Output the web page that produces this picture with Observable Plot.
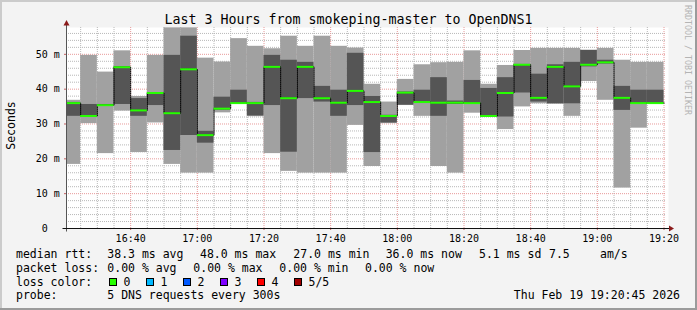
<!DOCTYPE html>
<html><head><meta charset="utf-8">
<script src="https://cdn.jsdelivr.net/npm/d3@7"></script>
<script src="https://cdn.jsdelivr.net/npm/@observablehq/plot@0.6"></script>
<style>
html,body{margin:0;padding:0;background:#f3f3f3;}
#chart{position:relative;width:697px;height:310px;background:#f3f3f3;overflow:hidden;font-family:"DejaVu Sans Mono",monospace;}
#chart svg{position:absolute;left:0;top:0;}
</style></head><body><div id="chart"></div>
<script>
// ---- data (ms) ----
const slotStart = ["16:20","16:25","16:30","16:35","16:40","16:45","16:50","16:55","17:00","17:05","17:10","17:15",
  "17:20","17:25","17:30","17:35","17:40","17:45","17:50","17:55","18:00","18:05","18:10","18:15",
  "18:20","18:25","18:30","18:35","18:40","18:45","18:50","18:55","19:00","19:05","19:10","19:15"];
const pingMax    = [36.8,49.7,44.9,51.0,37.9,49.7,57.6,57.6,48.9,47.8,54.5,52.3, 51.6,55.2,52.3,55.2,52.3,51.8,41.4,36.3,42.8,47.0,47.6,47.7, 51.0,41.4,46.8,51.1,51.7,51.7,51.7,51.2,51.7,48.3,47.7,47.7];
const pingUpper  = [36.2,35.6,35.6,46.4,37.3,39.0,49.7,55.2,27.9,37.7,39.7,36.2, 49.7,48.3,47.7,40.8,39.7,50.3,37.9,32.5,39.2,39.7,43.3,36.6, 42.5,40.2,43.3,47.1,44.3,47.0,47.7,51.1,48.3,40.8,39.7,39.7];
const pingMedian = [36.0,32.3,35.4,46.3,33.9,38.9,33.1,45.7,26.8,34.4,36.0,36.0, 46.4,37.4,46.4,37.4,36.1,39.5,36.3,32.3,39.0,36.3,36.1,36.1, 36.0,32.3,38.9,47.0,37.5,46.4,40.8,47.0,47.7,37.5,36.0,36.0];
const pingLower  = [32.2,32.0,35.2,35.6,32.2,35.3,22.4,26.7,24.5,34.0,35.8,32.3, 35.3,21.9,37.3,36.3,32.2,35.3,21.8,30.3,35.4,36.0,32.2,35.6, 35.8,32.0,32.0,38.9,36.3,35.8,35.8,46.4,47.2,33.9,35.6,35.7];
const pingMin    = [18.4,30.1,21.5,33.7,21.8,30.3,18.4,15.9,15.9,33.2,35.7,32.1, 21.5,16.4,15.9,15.9,15.9,29.6,17.8,30.1,35.3,32.2,17.8,15.9, 33.1,31.9,28.4,34.9,35.8,35.7,32.2,42.2,36.8,11.6,28.8,35.6];
const yTicks = [0,10,20,30,40,50];
const yTickLabels = ["0\u00a0\u00a0","10 m","20 m","30 m","40 m","50 m"];
const xTickLabels = ["16:40","17:00","17:20","17:40","18:00","18:20","18:40","19:00","19:20"];
const titleText = "Last 3 Hours from smokeping-master to OpenDNS1";
const lossLabels = ["0","1","2","3","4","5/5"];
const lossColors = ["#26ff00","#00b8ff","#0059ff","#7e00ff","#ff0000","#a10000"];

// ---- build ----
const day = (hm, s = 0) => { const [h, m] = hm.split(":").map(Number); return new Date(2026, 1, 19, h, m, s); };
const xDomain = [day("16:20", 45), day("19:20", 45)];
const rows = slotStart.map((t, i) => {
  const start = day(t);
  return {start, end: new Date(+start + 5 * 60000), max: pingMax[i], upper: pingUpper[i],
          median: pingMedian[i], lower: pingLower[i], min: pingMin[i]};
});
const stepPts = rows.map(r => ({t: r.start, v: r.median}));
stepPts.push({t: rows[rows.length - 1].end, v: rows[rows.length - 1].median});
const majorX = xTickLabels.map(s => day(s));
const minorX = d3.timeMinute.every(5).range(day("16:25"), day("19:21")).filter(d => d.getMinutes() % 20 !== 0);
const minorY = d3.range(2, 58, 2).filter(v => v % 10 !== 0);
const majorY = yTicks.filter(v => v > 0);
const FONT = "DejaVu Sans Mono, monospace";

const plot = Plot.plot({
  width: 697, height: 250,
  marginLeft: 66, marginRight: 31, marginTop: 27, marginBottom: 22,
  x: {type: "time", domain: xDomain},
  y: {domain: [0, 57.7]},
  style: {background: "transparent", fontFamily: FONT, fontSize: "10px", color: "black", overflow: "visible"},
  marks: [
    Plot.frame({fill: "white", stroke: null, insetRight: -2}),
    Plot.ruleY(minorY, {stroke: "#b8b8b8", strokeDasharray: "1,1"}),
    Plot.ruleX(minorX, {stroke: "#b8b8b8", strokeDasharray: "1,1"}),
    Plot.ruleY(majorY, {stroke: "#e89a9a", strokeDasharray: "1,1"}),
    Plot.ruleX(majorX, {stroke: "#e89a9a", strokeDasharray: "1,1"}),
    Plot.rect(rows, {x1: "start", x2: "end", y1: "min", y2: "max", fill: "#a1a1a1", clip: true}),
    Plot.rect(rows, {x1: "start", x2: "end", y1: "lower", y2: "upper", fill: "#555555", clip: true}),
    Plot.line(stepPts, {x: "t", y: "v", curve: "step-after", stroke: "#000", strokeWidth: 1, strokeDasharray: "1,1", clip: true}),
    Plot.ruleY(rows, {y: "median", x1: "start", x2: "end", stroke: lossColors[0], strokeWidth: 2, clip: true}),
    Plot.axisY({ticks: yTicks, tickFormat: (d) => yTickLabels[yTicks.indexOf(d)], tickSize: 2, tickPadding: 4.7, stroke: "#c06060", fill: "black", fontSize: 10}),
    Plot.axisX({ticks: majorX, tickFormat: (d) => xTickLabels[majorX.findIndex(m => +m === +d)], tickSize: 2, tickPadding: 4.4, stroke: "#c06060", fill: "black", fontSize: 10})
  ]
});
document.getElementById("chart").appendChild(plot);

// axis lines + arrows using the plot scales
const sx = plot.scale("x"), sy = plot.scale("y");
const axLeft = Math.round(sx.apply(xDomain[0])) + 0.5, axRight = sx.apply(xDomain[1]);
const axBase = Math.round(sy.apply(0)) + 0.5, axTop = sy.apply(57.7);
const ps = d3.select(plot);
ps.append("line").attr("x1", axLeft).attr("x2", axLeft).attr("y1", axBase + 3).attr("y2", axTop - 4).attr("stroke", "#555");
ps.append("line").attr("x1", axLeft - 4).attr("x2", axRight + 4).attr("y1", axBase).attr("y2", axBase).attr("stroke", "#111");
ps.append("path").attr("d", `M${axLeft},${axTop - 7}L${axLeft + 3},${axTop - 1.5}L${axLeft - 3},${axTop - 1.5}Z`).attr("fill", "#8b1a1a");
ps.append("path").attr("d", `M${axRight + 8},${axBase}L${axRight + 3},${axBase - 3}L${axRight + 3},${axBase + 3}Z`).attr("fill", "#8b1a1a");

// ---- texts / legend ----
const ov = d3.select("#chart").append("svg").attr("width", 697).attr("height", 310)
  .style("font-family", FONT).style("pointer-events", "none").style("white-space", "pre");
ov.append("text").attr("x", 348.5).attr("y", 24).attr("text-anchor", "middle").attr("font-size", 13.3).text(titleText);
ov.append("text").attr("transform", "translate(15,125.5) rotate(-90)").attr("text-anchor", "middle").attr("font-size", 11.5).text("Seconds");
ov.append("text").attr("transform", "translate(685,5) rotate(90)").attr("font-size", 8.3).attr("fill", "#b4b4b4").text("RRDTOOL / TOBI OETIKER");

const legendLines = [
  {y: 258, parts: [[16, "median rtt:"], [107.3, "38.3 ms avg"], [200, "48.0 ms max"], [293.3, "27.0 ms min"], [385.7, "36.0 ms now"], [479, "5.1 ms sd"], [549, "7.5"], [600, "am/s"]]},
  {y: 271.7, parts: [[16, "packet loss:"], [107.3, "0.00 % avg"], [193.3, "0.00 % max"], [279.3, "0.00 % min"], [365, "0.00 % now"]]},
  {y: 285.5, parts: [[16, "loss color:"]]},
  {y: 299, parts: [[16, "probe:"], [107.3, "5 DNS requests every 300s"]]}
];
legendLines.forEach(l => l.parts.forEach(([x, t]) =>
  ov.append("text").attr("x", x).attr("y", l.y).attr("font-size", 11.5).text(t)));
const boxX = [109, 146, 183, 220, 257, 294];
lossLabels.forEach((lab, i) => {
  ov.append("rect").attr("x", boxX[i] + 0.5).attr("y", 278.5).attr("width", 7).attr("height", 7)
    .attr("fill", lossColors[i]).attr("stroke", "#000");
  ov.append("text").attr("x", boxX[i] + 14.5).attr("y", 285.5).attr("font-size", 11.5).text(lab);
});
ov.append("text").attr("x", 680).attr("y", 299).attr("text-anchor", "end").attr("font-size", 11.5).text("Thu Feb 19 19:20:45 2026");

// frame shading
ov.append("rect").attr("x", 0).attr("y", 0).attr("width", 697).attr("height", 2).attr("fill", "#cbcbcb");
ov.append("rect").attr("x", 0).attr("y", 0).attr("width", 2).attr("height", 310).attr("fill", "#cbcbcb");
ov.append("rect").attr("x", 0).attr("y", 308).attr("width", 697).attr("height", 2).attr("fill", "#9b9b9b");
ov.append("rect").attr("x", 695).attr("y", 0).attr("width", 2).attr("height", 310).attr("fill", "#9b9b9b");
</script></body></html>
